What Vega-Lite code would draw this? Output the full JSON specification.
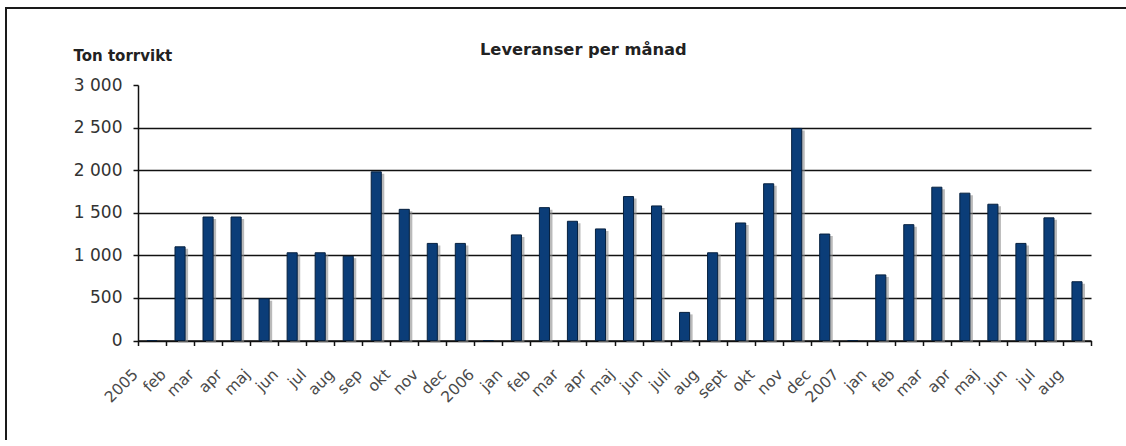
{
  "$schema": "https://vega.github.io/schema/vega-lite/v6.json",
  "usermeta": {"embedOptions": {"actions": false}},
  "width": 1120,
  "height": 432,
  "autosize": {"type": "none"},
  "padding": {"left": 6, "top": 8, "right": 0, "bottom": 0},
  "background": "white",
  "title": {
    "text": "Leveranser per månad",
    "anchor": "start",
    "frame": "group",
    "dx": 474,
    "offset": -63,
    "baseline": "alphabetic",
    "font": "DejaVu Sans",
    "fontSize": 16.3,
    "fontWeight": "bold",
    "color": "#222222"
  },
  "data": {
    "values": [
      {"month": "2005", "ton": null},
      {"month": "feb 2005", "ton": 1100},
      {"month": "mar 2005", "ton": 1450},
      {"month": "apr 2005", "ton": 1450},
      {"month": "maj 2005", "ton": 490},
      {"month": "jun 2005", "ton": 1030},
      {"month": "jul 2005", "ton": 1030},
      {"month": "aug 2005", "ton": 990},
      {"month": "sep 2005", "ton": 1980},
      {"month": "okt 2005", "ton": 1540},
      {"month": "nov 2005", "ton": 1140},
      {"month": "dec 2005", "ton": 1140},
      {"month": "2006", "ton": null},
      {"month": "jan 2006", "ton": 1240},
      {"month": "feb 2006", "ton": 1560},
      {"month": "mar 2006", "ton": 1400},
      {"month": "apr 2006", "ton": 1310},
      {"month": "maj 2006", "ton": 1690},
      {"month": "jun 2006", "ton": 1580},
      {"month": "juli 2006", "ton": 330},
      {"month": "aug 2006", "ton": 1030},
      {"month": "sept 2006", "ton": 1380},
      {"month": "okt 2006", "ton": 1840},
      {"month": "nov 2006", "ton": 2490},
      {"month": "dec 2006", "ton": 1250},
      {"month": "2007", "ton": null},
      {"month": "jan 2007", "ton": 770},
      {"month": "feb 2007", "ton": 1360},
      {"month": "mar 2007", "ton": 1800},
      {"month": "apr 2007", "ton": 1730},
      {"month": "maj 2007", "ton": 1600},
      {"month": "jun 2007", "ton": 1140},
      {"month": "jul 2007", "ton": 1440},
      {"month": "aug 2007", "ton": 690}
    ]
  },
  "encoding": {
    "x": {
      "field": "month",
      "type": "nominal",
      "sort": null,
      "scale": {"range": [132, 1085], "paddingInner": 0, "paddingOuter": 0},
      "axis": {
        "title": null,
        "orient": "bottom",
        "offset": -99.5,
        "labelExpr": "datum.value ? split(datum.value, ' ')[0] : ''",
        "labelAngle": -45,
        "labelAlign": "right",
        "labelBaseline": "top",
        "labelOffset": -22,
        "labelPadding": 21,
        "labelFont": "DejaVu Sans",
        "labelFontSize": 15.5,
        "labelColor": "#4a4a4a",
        "tickBand": "extent",
        "tickSize": 5,
        "tickColor": "#111111",
        "tickWidth": 1.5,
        "domainColor": "#111111",
        "domainWidth": 1.5,
        "grid": false,
        "labelOverlap": false
      }
    },
    "y": {
      "field": "ton",
      "type": "quantitative",
      "scale": {"domain": [0, 3000], "nice": false, "range": [332.5, 77]},
      "axis": {
        "title": "Ton torrvikt",
        "orient": "left",
        "offset": -132,
        "values": [0, 500, 1000, 1500, 2000, 2500, 3000],
        "labelExpr": "replace(format(datum.value, ','), ',', ' ')",
        "labelFont": "DejaVu Sans",
        "labelFontSize": 17,
        "labelColor": "#333333",
        "labelPadding": 11,
        "tickSize": 5,
        "tickColor": "#111111",
        "tickWidth": 1.5,
        "domainColor": "#111111",
        "domainWidth": 1.5,
        "grid": true,
        "gridColor": "#111111",
        "gridWidth": 1.5,
        "gridOpacity": {"condition": {"test": "datum.value >= 3000", "value": 0}, "value": 1},
        "titleAngle": 0,
        "titleX": -65,
        "titleY": 52.5,
        "titleAlign": "left",
        "titleBaseline": "alphabetic",
        "titleFont": "DejaVu Sans",
        "titleFontSize": 15,
        "titleFontWeight": "bold",
        "titleColor": "#222222"
      }
    }
  },
  "layer": [
    {
      "mark": {"type": "bar", "width": {"band": 0.36}, "fill": "#8c8c8c", "opacity": 0.6, "xOffset": 3, "yOffset": 2, "invalid": "show"}
    },
    {
      "mark": {"type": "bar", "width": {"band": 0.36}, "fill": "#0b3d78", "stroke": "#06203f", "strokeWidth": 1, "invalid": "show"}
    }
  ],
  "config": {
    "view": {"stroke": "#1a1a1a", "strokeWidth": 2, "strokeDash": [1120, 1552, 432], "fill": "white"}
  }
}
